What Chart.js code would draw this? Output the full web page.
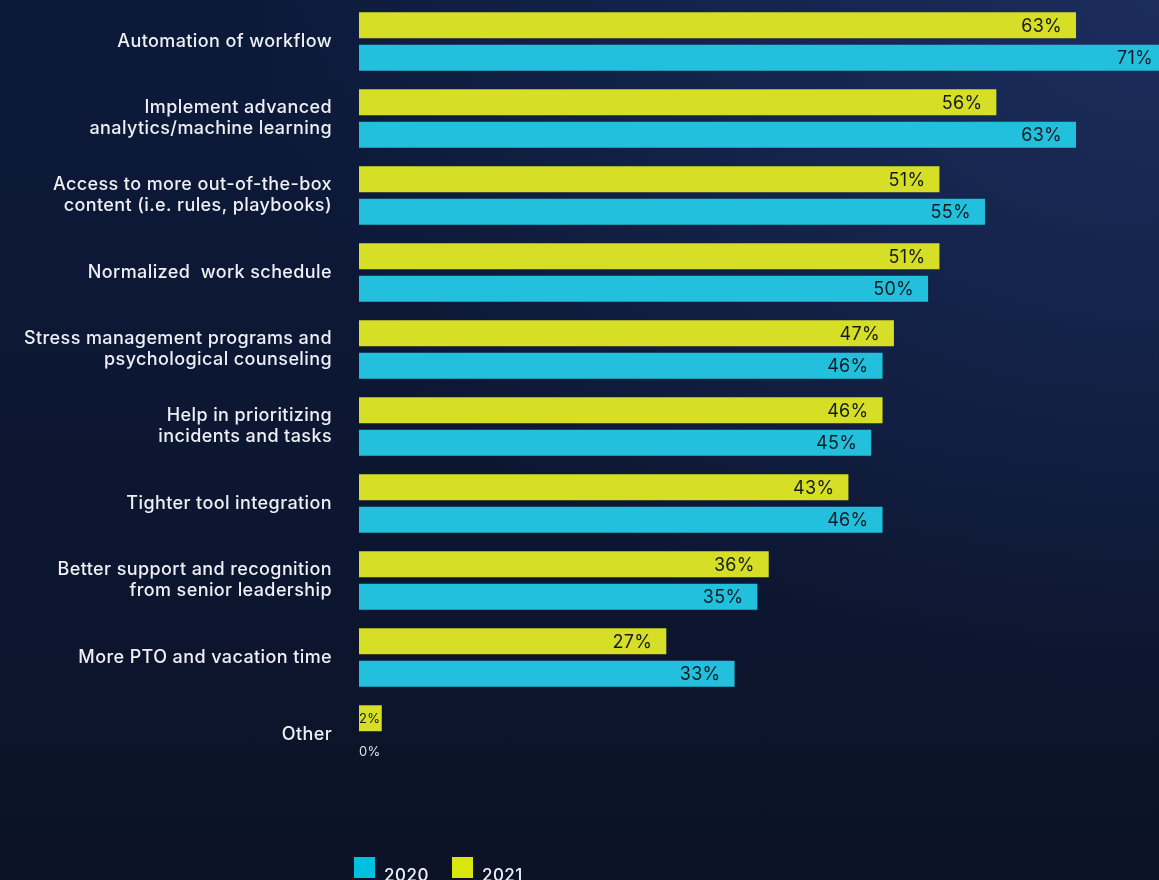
<!DOCTYPE html>
<html>
<head>
<meta charset="utf-8">
<script src="https://cdn.jsdelivr.net/npm/chart.js@4"></script>
<style>
  html, body { margin: 0; padding: 0; }
  body {
    width: 1159px; height: 880px; overflow: hidden;
    background:
      radial-gradient(ellipse 900px 700px at 100% 0%, rgba(28, 46, 94, 0.95) 0%, rgba(28, 46, 94, 0) 100%),
      linear-gradient(180deg, #0c1a3a 0%, #0c1630 60%, #0c1327 100%);
    font-family: "Inter", "Noto Sans", sans-serif;
  }
  #wrap { position: relative; width: 1159px; height: 880px; }
  #legend { position: absolute; left: 354px; top: 857px; display: flex; color: #eef0f6; font-size: 17px; font-weight: 500; letter-spacing: 0.5px; }
  .item { display: flex; align-items: flex-end; margin-right: 23px; }
  .box { width: 21px; height: 21px; margin-right: 9px; }
  .item span { line-height: 17px; position: relative; top: 6px; }
</style>
</head>
<body>
<div id="wrap">
  <canvas id="chart" width="1159" height="880"></canvas>
  <div id="legend"></div>
</div>
<script>
// ===== Data =====
const categories = [
  ["Automation of workflow"],
  ["Implement advanced", "analytics/machine learning"],
  ["Access to more out-of-the-box", "content (i.e. rules, playbooks)"],
  ["Normalized  work schedule"],
  ["Stress management programs and", "psychological counseling"],
  ["Help in prioritizing", "incidents and tasks"],
  ["Tighter tool integration"],
  ["Better support and recognition", "from senior leadership"],
  ["More PTO and vacation time"],
  ["Other"],
];
const values2021 = [63, 56, 51, 51, 47, 46, 43, 36, 27, 2];
const values2020 = [71, 63, 55, 50, 46, 45, 46, 35, 33, 0];

const colors = {
  y2021: "#d6df25",
  y2020: "#22c0dd",
  legend2021: "#d8e60e",
  legend2020: "#00c0e0",
  text: "#eef0f6",
  valueText: "#141a22",
};

const FONT = '"Inter", "Noto Sans", sans-serif';

// ===== Legend (HTML) =====
const legendEl = document.getElementById("legend");
[["2020", colors.legend2020], ["2021", colors.legend2021]].forEach(([name, c]) => {
  const item = document.createElement("div");
  item.className = "item";
  item.innerHTML = `<div class="box" style="background:${c}"></div><span>${name}</span>`;
  legendEl.appendChild(item);
});

// wider tracking for all canvas text
const tracking = {
  id: "tracking",
  beforeDraw(chart) {
    chart.ctx.letterSpacing = "0.4px";
  },
};

// ===== Value labels at bar ends =====
const valueLabels = {
  id: "valueLabels",
  afterDatasetsDraw(chart) {
    const ctx = chart.ctx;
    ctx.save();
    ctx.letterSpacing = "0.3px";
    ctx.textBaseline = "middle";
    chart.data.datasets.forEach((ds, di) => {
      chart.getDatasetMeta(di).data.forEach((bar, i) => {
        const v = ds.data[i];
        const text = v + "%";
        if (v >= 5) {
          ctx.font = "18px " + FONT;
          ctx.fillStyle = colors.valueText;
          ctx.textAlign = "right";
          ctx.fillText(text, bar.x - 14, bar.y + 1);
        } else if (v > 0) {
          ctx.font = "13px " + FONT;
          ctx.fillStyle = colors.valueText;
          ctx.textAlign = "left";
          ctx.fillText(text, bar.base, bar.y + 1);
        } else {
          ctx.font = "13px " + FONT;
          ctx.fillStyle = "#dfe2ea";
          ctx.textAlign = "left";
          ctx.fillText(text, bar.base, bar.y + 1);
        }
      });
    });
    ctx.restore();
  },
};

// ===== Chart =====
new Chart(document.getElementById("chart").getContext("2d"), {
  type: "bar",
  data: {
    labels: categories,
    datasets: [
      { label: "2021", data: values2021, backgroundColor: colors.y2021, clip: false },
      { label: "2020", data: values2020, backgroundColor: colors.y2020, clip: false },
    ],
  },
  options: {
    indexAxis: "y",
    responsive: false,
    animation: false,
    categoryPercentage: 0.844,
    barPercentage: 0.8,
    layout: { padding: { top: 3, bottom: 107, right: 3.3, left: 0 } },
    plugins: {
      legend: { display: false },
      tooltip: { enabled: false },
    },
    scales: {
      x: { display: false, min: 0, max: 70 },
      y: {
        afterFit: (scale) => {
          scale.width = 359;
          scale.paddingTop = 0;
          scale.paddingBottom = 0;
        },
        grid: { display: false, drawTicks: false },
        border: { display: false },
        ticks: {
          color: colors.text,
          padding: 27,
          font: { family: FONT, size: 18, weight: 500, lineHeight: 1.17 },
        },
      },
    },
  },
  plugins: [tracking, valueLabels],
});
</script>
</body>
</html>
